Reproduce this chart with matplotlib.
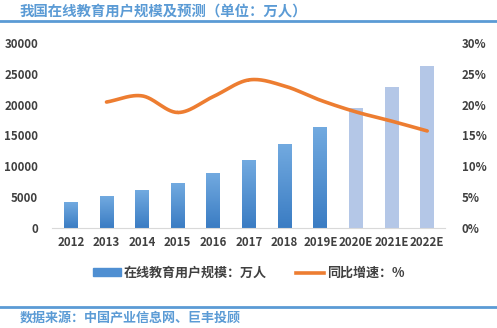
import matplotlib
matplotlib.use("Agg")
import matplotlib.pyplot as plt
import matplotlib.patches as mpatches
import matplotlib.lines as mlines
from matplotlib.ticker import FuncFormatter
import numpy as np

plt.rcParams['font.family'] = ['Noto Sans CJK SC', 'DejaVu Sans']

# 用户规模（万人）及同比增速
years = ['2012', '2013', '2014', '2015', '2016', '2017', '2018',
         '2019E', '2020E', '2021E', '2022E']
users = [4150, 5120, 6100, 7240, 8860, 10980, 13580, 16340, 19430, 22850, 26300]
growth_years = years[1:]
growth = [20.4, 21.4, 18.7, 21.3, 24.0, 23.0, 20.7, 18.8, 17.3, 15.7]
n_actual = 8  # 2012-2019E 为深色柱，其余为浅色预测柱

BLUE_TOP = '#72aae0'
BLUE_BOT = '#3a7cc3'
BLUE_LIGHT = '#b4c7e7'
ORANGE = '#ed7d31'
TITLE_BLUE = '#5b9bd5'
TEXT = '#404040'


def catmull_rom(x, y, steps=30):
    """Excel 风格的平滑曲线"""
    x = np.asarray(x, float)
    y = np.asarray(y, float)
    px = np.concatenate([[2 * x[0] - x[1]], x, [2 * x[-1] - x[-2]]])
    py = np.concatenate([[2 * y[0] - y[1]], y, [2 * y[-1] - y[-2]]])
    xs, ys = [], []
    t = np.linspace(0, 1, steps)
    for i in range(1, len(px) - 2):
        for p, out in ((px, xs), (py, ys)):
            p0, p1, p2, p3 = p[i - 1], p[i], p[i + 1], p[i + 2]
            out.append(0.5 * ((2 * p1) + (-p0 + p2) * t
                              + (2 * p0 - 5 * p1 + 4 * p2 - p3) * t ** 2
                              + (-p0 + 3 * p1 - 3 * p2 + p3) * t ** 3))
    return np.concatenate(xs), np.concatenate(ys)


fig = plt.figure(figsize=(4.97, 3.28), dpi=100)
ax = fig.add_axes([0.1046, 0.3064, 0.7908, 0.5625])

x = np.arange(len(years))
w = 0.39
grad = np.linspace(0, 1, 256).reshape(-1, 1)
cmap = matplotlib.colors.LinearSegmentedColormap.from_list('b', [BLUE_BOT, BLUE_TOP])
for i, v in enumerate(users):
    if i < n_actual:
        ax.imshow(grad, cmap=cmap, origin='lower', aspect='auto',
                  extent=[x[i] - w / 2, x[i] + w / 2, 0, v], zorder=2)
    else:
        ax.bar(x[i], v, width=w, color=BLUE_LIGHT, zorder=2)

ax.set_xlim(-0.53, 10.5)
ax.set_ylim(0, 30000)
ax.set_yticks(range(0, 30001, 5000))
ax.set_xticks(x)
ax.set_xticklabels(years)
for s in ['top', 'right', 'left']:
    ax.spines[s].set_visible(False)
ax.spines['bottom'].set_color('#d9d9d9')
ax.tick_params(length=0, colors=TEXT, labelsize=8.3)
ax.tick_params(axis='y', pad=10)
ax.tick_params(axis='x', pad=6)
for lab in ax.get_xticklabels() + ax.get_yticklabels():
    lab.set_fontweight('bold')

ax2 = ax.twinx()
ax2.set_ylim(0, 30)
ax2.set_yticks(range(0, 31, 5))
ax2.yaxis.set_major_formatter(FuncFormatter(lambda v, p: f'{v:.0f}%'))
for s in ax2.spines.values():
    s.set_visible(False)
ax2.tick_params(length=0, colors=TEXT, labelsize=8.3, pad=12)
for lab in ax2.get_yticklabels():
    lab.set_fontweight('bold')

gx = [years.index(y) for y in growth_years]
sx, sy = catmull_rom(gx, growth)
ax2.plot(sx, sy, color=ORANGE, lw=2.6, solid_capstyle='round', zorder=3)

# 图例
h1 = mpatches.Patch(color='#4f8fd2')
h2 = mlines.Line2D([], [], color=ORANGE, lw=2.6)
fig.legend([h1, h2], ['在线教育用户规模：万人', '同比增速：%'],
           loc='center', bbox_to_anchor=(0.5, 0.168), ncol=2, frameon=False,
           prop={'size': 9.4, 'weight': 'bold'}, labelcolor=TEXT,
           handlelength=2.2, handleheight=0.55, handletextpad=0.2,
           columnspacing=2.2)

# 标题与来源
fig.text(0.04, 0.963, '我国在线教育用户规模及预测（单位：万人）', color=TITLE_BLUE,
         fontsize=10.4, fontweight='bold', va='center', ha='left')
fig.add_artist(mlines.Line2D([0, 1], [0.936, 0.936], color=TITLE_BLUE, lw=2,
                             transform=fig.transFigure))
fig.add_artist(mlines.Line2D([0, 1], [0.065, 0.065], color=TITLE_BLUE, lw=2,
                             transform=fig.transFigure))
fig.text(0.04, 0.03, '数据来源：中国产业信息网、巨丰投顾', color=TITLE_BLUE,
         fontsize=9.4, fontweight='bold', va='center', ha='left')

fig.savefig('out.png', dpi=100)
